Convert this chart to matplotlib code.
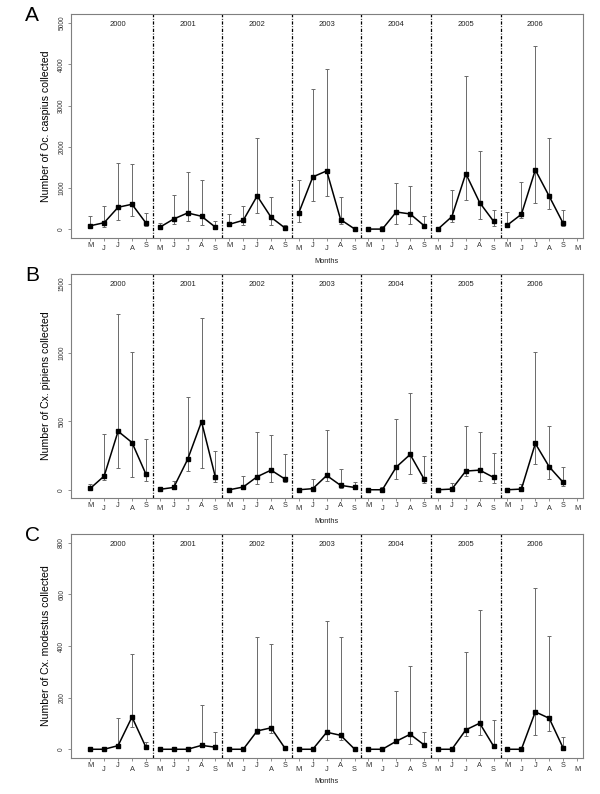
import numpy as np
import matplotlib
matplotlib.use('Agg')
import matplotlib.pyplot as plt
import matplotlib.transforms as mtrans

plt.rcParams['font.family'] = ['Liberation Sans', 'DejaVu Sans']

# survey years and the five trapping months of each year
years = ['2000', '2001', '2002', '2003', '2004', '2005', '2006']
months = ['M', 'J', 'J', 'A', 'S']
month_labels = months * 7 + ['M']

# Oc. caspius: mean and interval ends, 5 months per year
caspius_mean = [85, 160, 534, 607, 154,
                50, 250, 396, 316, 50,
                121, 218, 809, 291, 32,
                404, 1270, 1416, 235, 10,
                5, 5, 420, 372, 89,
                5, 307, 1351, 647, 194,
                105, 364, 1440, 801, 146]
caspius_hi = [325, 575, 1600, 1594, 400,
              146, 825, 1390, 1190, 202,
              364, 558, 2225, 790, 113,
              1190, 3400, 3883, 777, 20,
              10, 80, 1125, 1052, 332,
              10, 947, 3713, 1901, 469,
              420, 1140, 4450, 2208, 469]
caspius_lo = [60, 45, 227, 324, 81,
              16, 121, 202, 97, 16,
              81, 97, 388, 97, 16,
              170, 696, 801, 121, 5,
              0, 0, 130, 130, 32,
              0, 170, 704, 243, 89,
              57, 267, 639, 485, 80]

# Cx. pipiens
pipiens_mean = [12, 102, 428, 346, 116,
                5, 19, 223, 498, 92,
                2, 22, 97, 145, 80,
                2, 10, 106, 34, 19,
                2, 2, 167, 259, 80,
                2, 7, 138, 145, 92,
                2, 7, 339, 169, 56]
pipiens_hi = [41, 409, 1283, 1007, 368,
              8, 63, 675, 1251, 281,
              4, 104, 426, 402, 266,
              4, 77, 440, 150, 56,
              4, 24, 515, 709, 249,
              4, 48, 469, 419, 273,
              4, 41, 1007, 464, 165]
pipiens_lo = [5, 70, 157, 92, 63,
              2, 10, 136, 157, 56,
              1, 10, 41, 56, 56,
              1, 5, 65, 15, 10,
              1, 1, 82, 114, 48,
              1, 3, 104, 68, 48,
              1, 3, 189, 77, 27]

# Cx. modestus
modestus_mean = [0, 0, 14, 125, 8,
                 0, 0, 0, 15, 8,
                 0, 0, 71, 83, 4,
                 0, 0, 66, 54, 1,
                 0, 0, 31, 58, 17,
                 0, 0, 75, 101, 12,
                 0, 0, 145, 120, 5]
modestus_hi = [0, 0, 123, 370, 28,
               0, 0, 0, 170, 67,
               0, 0, 435, 407, 10,
               0, 0, 497, 434, 5,
               0, 0, 225, 323, 67,
               0, 0, 375, 539, 112,
               0, 0, 625, 439, 49]
modestus_lo = [0, 0, 10, 85, 5,
               0, 0, 0, 10, 5,
               0, 0, 60, 62, 2,
               0, 0, 35, 36, 0,
               0, 0, 23, 21, 10,
               0, 0, 50, 56, 5,
               0, 0, 56, 70, 2]

panels = [
    ('A', 'Number of Oc. caspius collected', caspius_mean, caspius_hi, caspius_lo,
     [0, 1000, 2000, 3000, 4000, 5000], (-210, 5220), 0.7003),
    ('B', 'Number of Cx. pipiens collected', pipiens_mean, pipiens_hi, pipiens_lo,
     [0, 500, 1000, 1500], (-58, 1573), 0.3728),
    ('C', 'Number of Cx. modestus collected', modestus_mean, modestus_hi, modestus_lo,
     [0, 200, 400, 600, 800], (-34, 834), 0.0453),
]

fig = plt.figure(figsize=(6, 7.94), dpi=100)
frame = '#7f7f7f'

for letter, ylabel, mean, hi, lo, yticks, ylim, bottom in panels:
    ax = fig.add_axes([0.118, bottom, 0.853, 0.2821])
    mean = np.array(mean, dtype=float)
    hi = np.array(hi, dtype=float)
    lo = np.array(lo, dtype=float)
    x = np.arange(len(mean))
    trans = mtrans.blended_transform_factory(ax.transData, ax.transAxes)

    for i, yr in enumerate(years):
        sl = slice(5 * i, 5 * i + 5)
        ax.errorbar(x[sl], mean[sl], yerr=[mean[sl] - lo[sl], hi[sl] - mean[sl]],
                    fmt='none', ecolor='#6a6a6a', elinewidth=0.7,
                    capsize=1.6, capthick=0.7, zorder=2)
        ax.plot(x[sl], mean[sl], '-s', color='black', lw=1.1, ms=2.2, zorder=3)
        ax.text(5 * i + 2, 0.955, yr, transform=trans, ha='center', va='center',
                fontsize=5.5, color='#222222')

    # dash-dot separators between years
    for k in range(1, len(years)):
        ax.axvline(5 * k - 0.5, color='black', lw=0.9, dashes=(2.6, 1.3, 0.7, 1.3), zorder=1)

    ax.set_xlim(-1.4, 35.4)
    ax.set_ylim(*ylim)
    ax.set_xticks(np.arange(len(month_labels)))
    ax.set_xticklabels(month_labels, fontsize=5.3, color='#333333')
    ax.set_yticks(yticks)
    ax.set_yticklabels([str(v) for v in yticks], fontsize=4.8, color='#333333',
                       rotation=90, va='center')
    ax.tick_params(axis='both', direction='out', length=2.2, width=0.6, color=frame)
    ax.tick_params(axis='y', pad=1.8)
    # staggered month labels
    for i, t in enumerate(ax.xaxis.get_major_ticks()):
        t.set_pad(0.8 if i % 2 == 0 else 3.2)
    for sp in ax.spines.values():
        sp.set_color(frame)
        sp.set_linewidth(0.8)

    ax.text(-0.049, 0.5, ylabel, transform=ax.transAxes, rotation=90,
            ha='center', va='center', fontsize=7.6)
    ax.text(0.5, -0.107, 'Months', transform=ax.transAxes, ha='center', va='center',
            fontsize=5.3, color='#222222')
    fig.text(32 / 600, bottom + 0.2821 + 0.0024 - 3 / 794, letter, fontsize=15,
             ha='center', va='center')

fig.savefig('out.png', dpi=100)
